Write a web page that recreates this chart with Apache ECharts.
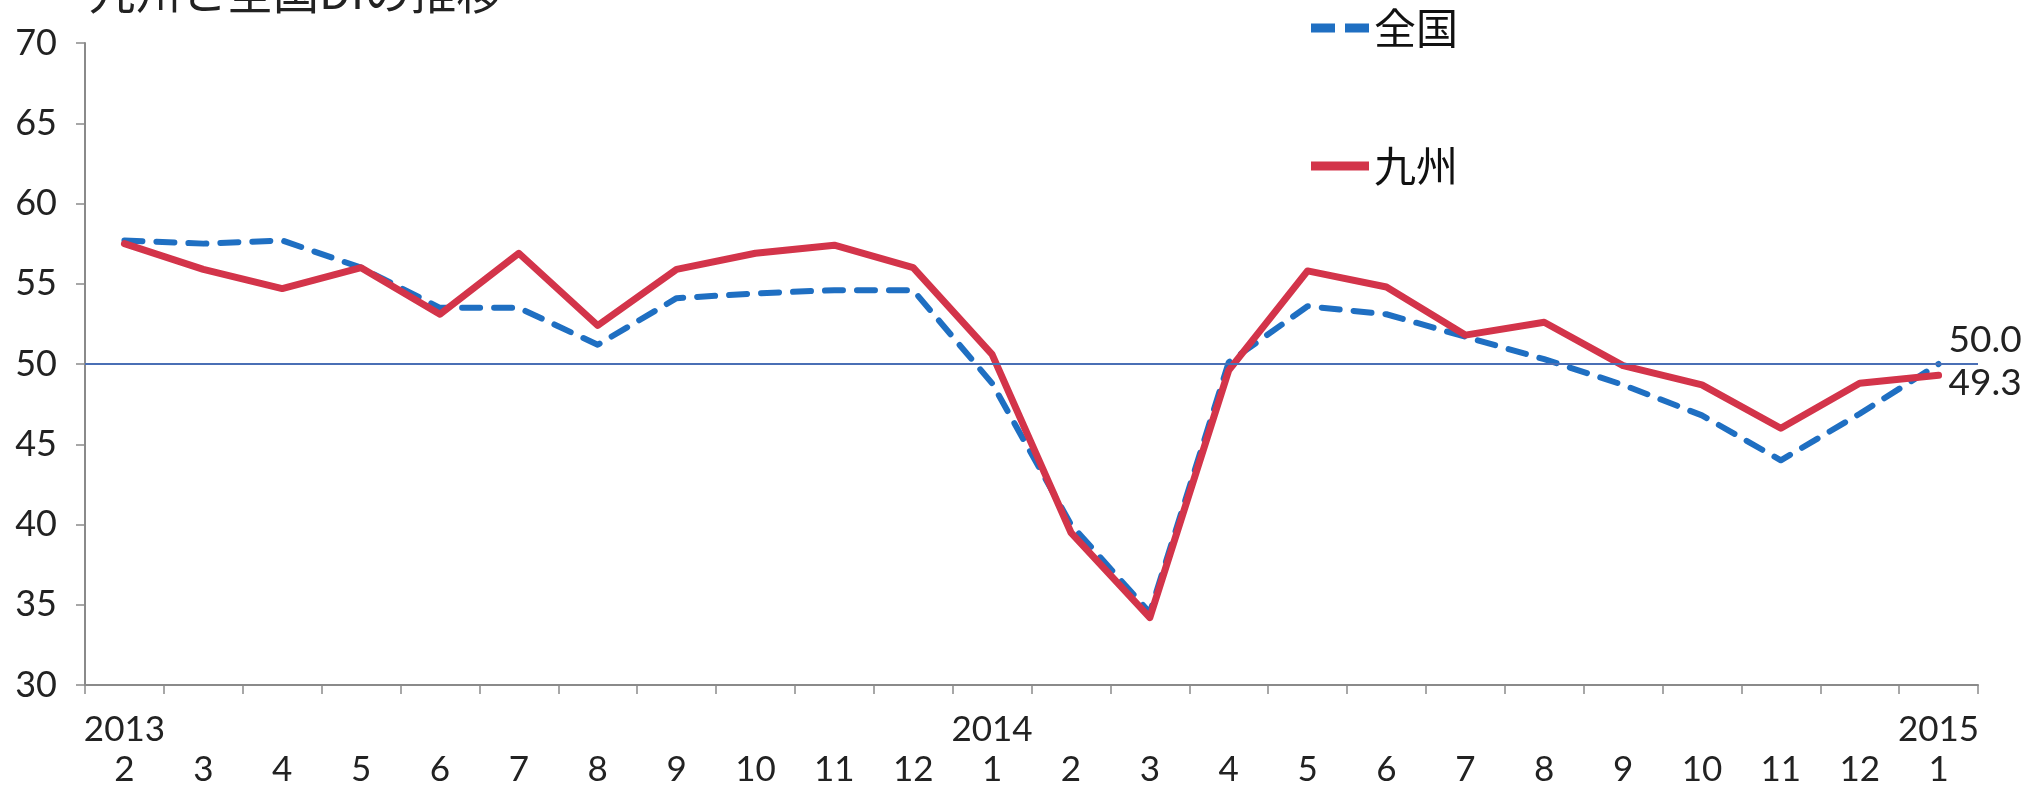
<!DOCTYPE html>
<html>
<head>
<meta charset="utf-8">
<script src="https://cdn.jsdelivr.net/npm/echarts@6/dist/echarts.min.js"></script>
<style>
html,body{margin:0;padding:0;background:#fff;}
#chart{width:2023px;height:790px;}
</style>
</head>
<body>
<div id="chart"></div>
<script>
// ---- data ----
const titleText = '九州と全国DIの推移';
const yearLabels = ['2013','','','','','','','','','','','2014','','','','','','','','','','','','2015'];
const monthLabels = ['2','3','4','5','6','7','8','9','10','11','12','1','2','3','4','5','6','7','8','9','10','11','12','1'];
const seriesNames = ['全国','九州'];
const zenkoku = [57.7, 57.5, 57.7, 56.0, 53.5, 53.5, 51.2, 54.1, 54.4, 54.6, 54.6, 48.8, 40.0, 34.5, 50.1, 53.6, 53.1, 51.7, 50.3, 48.7, 46.8, 44.0, 46.9, 50.0];
const kyushu  = [57.5, 55.9, 54.7, 56.0, 53.1, 56.9, 52.4, 55.9, 56.9, 57.4, 56.0, 50.6, 39.5, 34.2, 49.6, 55.8, 54.8, 51.8, 52.6, 49.9, 48.7, 46.0, 48.8, 49.3];
const referenceValue = 50;

const categories = monthLabels.map((m, i) => yearLabels[i] + '\n' + m);
const numFont = 'Lato, "Noto Sans", sans-serif';
const cjkFont = '"Noto Sans CJK JP", sans-serif';
const blue = '#1f6fc2';
const red = '#d3344a';

const endLabelStyle = {
  show: true, distance: 10,
  formatter: (p) => Number(p.value).toFixed(1),
  fontFamily: numFont, fontSize: 37, color: '#222'
};

const chart = echarts.init(document.getElementById('chart'));
chart.setOption({
  animation: false,
  backgroundColor: '#fff',
  title: {
    text: titleText, left: 84, top: -36,
    textStyle: { fontFamily: cjkFont, fontSize: 46, fontWeight: 'normal', color: '#222' }
  },
  legend: {
    orient: 'vertical', left: 1306, top: 2,
    itemWidth: 58, itemHeight: 9, itemGap: 96,
    textStyle: { fontFamily: cjkFont, fontSize: 42, color: '#111', padding: [0,0,0,0] },
    data: [
      { name: seriesNames[0], icon: 'path://M0,0H24V9H0Z M34,0H58V9H34Z' },
      { name: seriesNames[1], icon: 'path://M0,0H58V9H0Z' }
    ]
  },
  grid: { left: 85, right: 45, top: 43, bottom: 100 },
  xAxis: {
    type: 'category', data: categories, boundaryGap: true,
    axisLine: { lineStyle: { color: '#8a8a8a', width: 2 } },
    axisTick: { show: true, inside: false, length: 9, alignWithLabel: false, lineStyle: { color: '#8a8a8a', width: 1.5 } },
    axisLabel: {
      interval: 0, margin: 25, color: '#222', fontFamily: numFont, fontSize: 35, lineHeight: 40
    },
    splitLine: { show: false }
  },
  yAxis: {
    type: 'value', min: 30, max: 70, interval: 5,
    axisLine: { show: true, lineStyle: { color: '#8a8a8a', width: 2 } },
    axisTick: { show: true, length: 9, lineStyle: { color: '#8a8a8a', width: 1.5 } },
    axisLabel: { margin: 28, color: '#222', fontFamily: numFont, fontSize: 36 },
    splitLine: { show: false }
  },
  series: [
    {
      name: seriesNames[0], type: 'line', data: zenkoku,
      symbol: 'none', z: 2,
      lineStyle: { color: blue, width: 6, type: [18, 14], cap: 'round', join: 'round' },
      itemStyle: { color: blue },
      endLabel: Object.assign({}, endLabelStyle, { offset: [0, -24] }),
      markLine: {
        silent: true, symbol: 'none', label: { show: false },
        lineStyle: { color: '#4a6fb5', width: 2, type: 'solid' },
        data: [{ yAxis: referenceValue }]
      }
    },
    {
      name: seriesNames[1], type: 'line', data: kyushu,
      symbol: 'none', z: 3,
      lineStyle: { color: red, width: 7, cap: 'round', join: 'round' },
      itemStyle: { color: red },
      endLabel: Object.assign({}, endLabelStyle, { offset: [0, 8] })
    }
  ]
});
</script>
</body>
</html>
